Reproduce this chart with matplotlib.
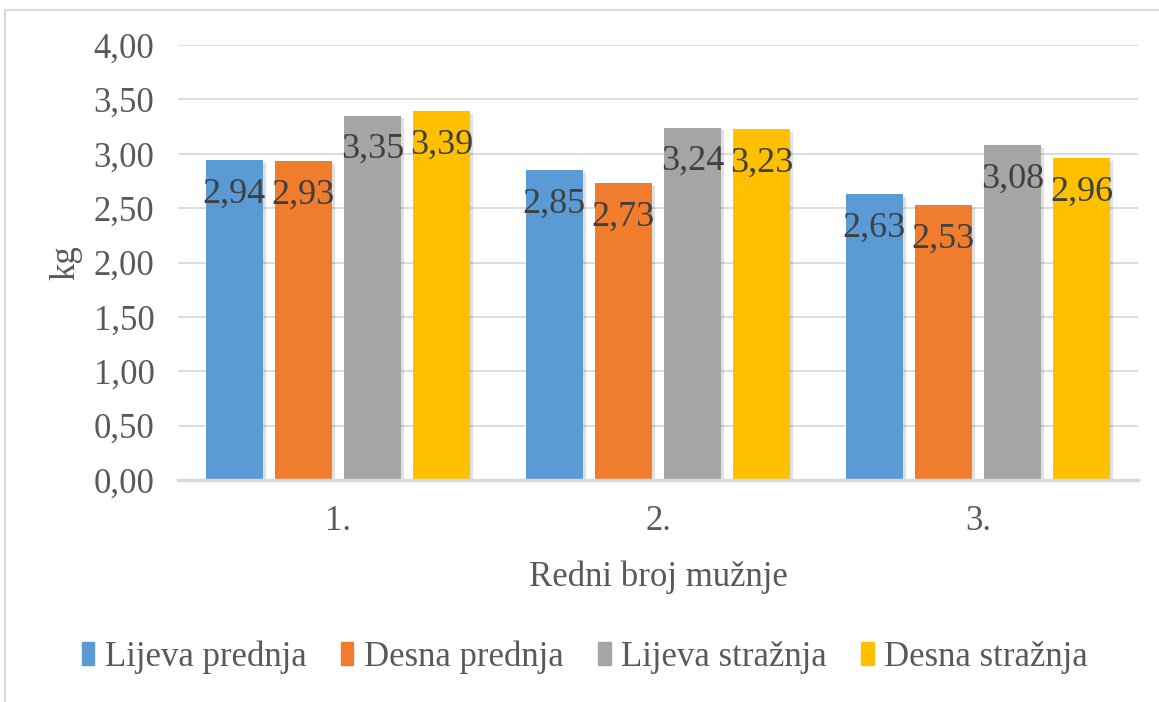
from matplotlib import pyplot as plt
from matplotlib.lines import Line2D
import matplotlib.patheffects as pe
import numpy as np

# Data
categories = ["1.", "2.", "3."]
series = ["Lijeva prednja", "Desna prednja", "Lijeva stražnja", "Desna stražnja"]
lijeva_prednja = [2.94, 2.85, 2.63]
desna_prednja = [2.93, 2.73, 2.53]
lijeva_straznja = [3.35, 3.24, 3.08]
desna_straznja = [3.39, 3.23, 2.96]
values = [lijeva_prednja, desna_prednja, lijeva_straznja, desna_straznja]
colors = ["#5B9BD5", "#F07C2E", "#A5A5A5", "#FFC000"]
yticks = [0.0, 0.5, 1.0, 1.5, 2.0, 2.5, 3.0, 3.5, 4.0]

plt.rcParams['font.family'] = ['Liberation Serif', 'DejaVu Serif']
text_col = "#595959"
grid_col = "#D9D9D9"

fig = plt.figure(figsize=(11.59, 7.02), dpi=100)
ax = fig.add_axes([178/1159, 1 - 480/702, 960/1159, 435/702])

x = np.arange(len(categories))
width = 0.178
step = 0.216
shadow = [pe.SimplePatchShadow(offset=(2, -2), shadow_rgbFace="#000000", alpha=0.12), pe.Normal()]
for i, (name, vals, col) in enumerate(zip(series, values, colors)):
    pos = x + (i - 1.5) * step
    bars = ax.bar(pos, vals, width, color=col, label=name, zorder=3)
    for b in bars:
        b.set_path_effects(shadow)
    for p, v in zip(pos, vals):
        ax.annotate(f"{v:.2f}".replace(".", ","), (p, v), xytext=(0, -34),
                    textcoords="offset pixels", ha="center", va="center",
                    fontsize=26, color="#404040", zorder=4)

ax.set_xlim(-0.5, 2.5)
ax.set_ylim(0, 4.0)
ax.set_yticks(yticks)
ax.set_yticklabels([f"{t:.2f}".replace(".", ",") for t in yticks])
ax.set_xticks(x)
ax.set_xticklabels(categories)
ax.tick_params(axis="both", length=0, labelsize=25, labelcolor=text_col)
ax.tick_params(axis="y", pad=17)
ax.tick_params(axis="x", pad=18)
ax.grid(axis="y", color=grid_col, linewidth=1.3, zorder=0)
for s in ["top", "right", "left"]:
    ax.spines[s].set_visible(False)
ax.spines["bottom"].set_color(grid_col)
ax.spines["bottom"].set_linewidth(2.5)
ax.spines["bottom"].set_zorder(5)

ax.set_ylabel("kg", fontsize=25, color=text_col, labelpad=8)
ax.set_xlabel("Redni broj mužnje", fontsize=25, color=text_col, labelpad=16)

handles = [plt.Rectangle((0, 0), 1, 1, color=c) for c in colors]
leg = fig.legend(handles, series, loc="center", bbox_to_anchor=(585/1159, 1 - 657/702),
                 ncol=4, frameon=False, fontsize=25, handlelength=0.35, handleheight=0.63,
                 handletextpad=0.3, columnspacing=1.0)
for t in leg.get_texts():
    t.set_color(text_col)

# outer chart border (top and left visible)
fig.add_artist(Line2D([5/1159, 5/1159], [0, 1 - 10/702], transform=fig.transFigure,
                      color=grid_col, linewidth=1.5))
fig.add_artist(Line2D([5/1159, 1], [1 - 10/702, 1 - 10/702], transform=fig.transFigure,
                      color=grid_col, linewidth=1.5))

fig.savefig("out.png", dpi=100)
